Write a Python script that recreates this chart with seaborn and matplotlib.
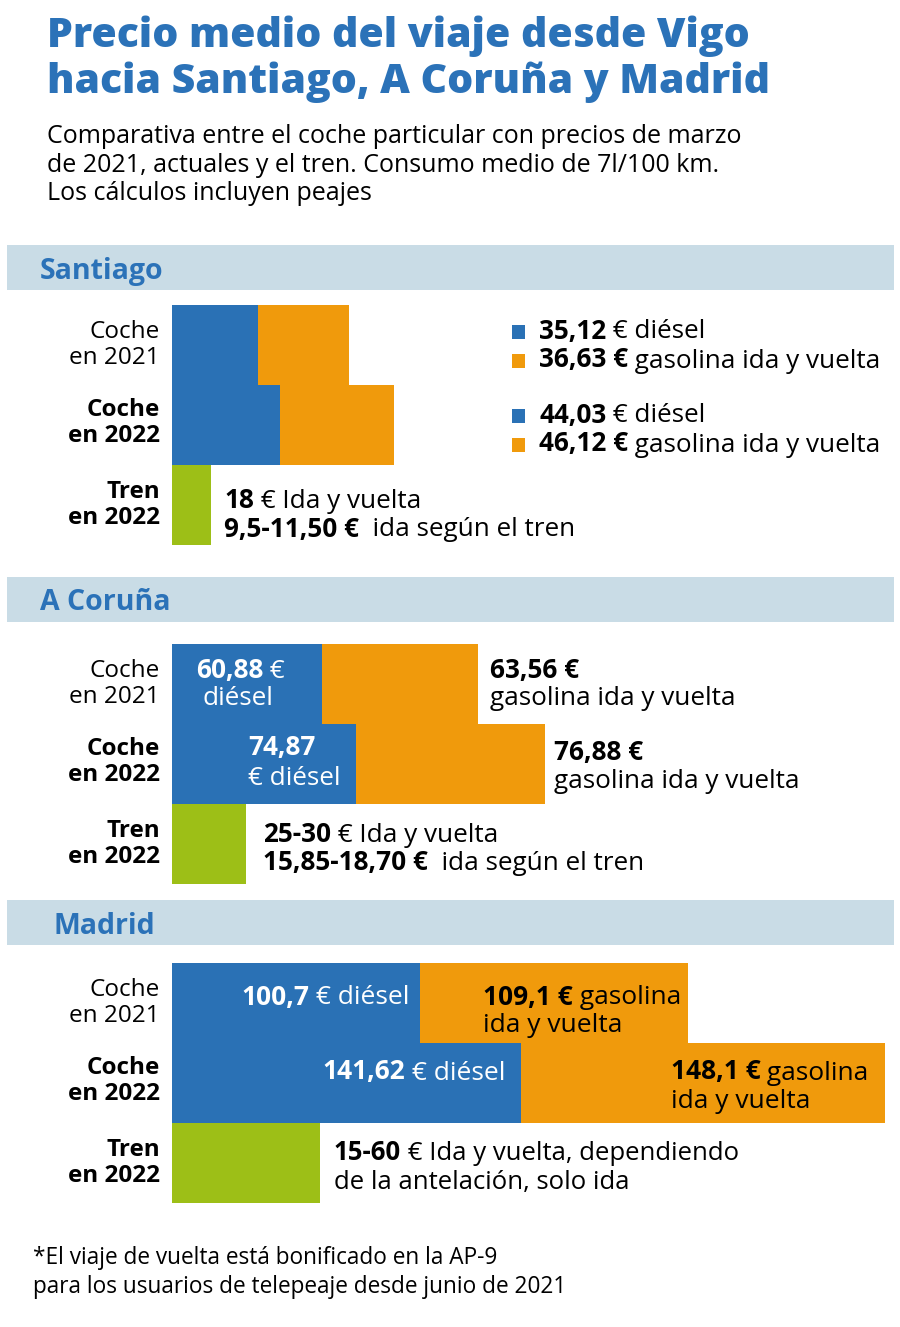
import numpy as np
import pandas as pd
import matplotlib
matplotlib.use("Agg")
import matplotlib.pyplot as plt
from matplotlib.patches import Rectangle
from matplotlib.offsetbox import TextArea, HPacker, AnnotationBbox, DrawingArea
import seaborn as sns

# datos
ciudades = ["Santiago", "A Coruña", "Madrid"]
filas = ["Coche\nen 2021", "Coche\nen 2022", "Tren\nen 2022"]
diesel_2021 = [35.12, 60.88, 100.7]
gasolina_2021 = [36.63, 63.56, 109.1]
diesel_2022 = [44.03, 74.87, 141.62]
gasolina_2022 = [46.12, 76.88, 148.1]
tren = [16, 30, 60]  # largo de la barra verde

AZUL = "#2a71b5"
NARANJA = "#f09a0c"
VERDE = "#9dbf17"
BANDA = "#c9dce6"
TITULO = "#2b72b8"

sns.set_theme(style="white")
FONT = "Open Sans"
plt.rcParams["font.family"] = [FONT, "DejaVu Sans"]
plt.rcParams["text.color"] = "black"

W, H = 900, 1327
fig = plt.figure(figsize=(9, 13.27), dpi=100)
BODY = 17.5   # etiquetas de fila
ANOT = 18.8   # textos de valores


def fx(px):
    return px / W


def fy(py):
    return 1 - py / H


def rich(ax, parts, xy, off, color="black", size=ANOT, align=0, square=None):
    kids = [TextArea(t, textprops=dict(color=color, fontsize=size, fontweight=w, family=FONT))
            for t, w in parts]
    box = HPacker(children=kids, sep=0, pad=0, align="baseline")
    if square is not None:
        da = DrawingArea(9.5, 9.5, 0, 0)
        da.add_artist(Rectangle((0, 0), 9.5, 9.5, color=square, lw=0))
        box = HPacker(children=[da, box], sep=10, pad=0, align="baseline")
    ab = AnnotationBbox(box, xy, xycoords="data", xybox=off, boxcoords="offset pixels",
                        box_alignment=(align, 0.5), frameon=False, pad=0, annotation_clip=False)
    ax.add_artist(ab)


# titulo y subtitulo
fig.text(fx(47), fy(47), "Precio medio del viaje desde Vigo", fontsize=29.5, fontweight="heavy",
         color=TITULO, va="baseline")
fig.text(fx(47), fy(93), "hacia Santiago, A Coruña y Madrid", fontsize=29.5, fontweight="heavy",
         color=TITULO, va="baseline")
sub = ["Comparativa entre el coche particular con precios de marzo",
       "de 2021, actuales y el tren. Consumo medio de 7l/100 km.",
       "Los cálculos incluyen peajes"]
for k, linea in enumerate(sub):
    fig.text(fx(47), fy(143 + 28.5 * k), linea, fontsize=18, va="baseline")

# bandas y ejes por ciudad
bandas = [245, 577, 900]
tops = [305, 644, 963]
xhead = [40, 40, 53]
XMAX = 728 / 2.461

axes = []
for i, ciudad in enumerate(ciudades):
    fig.add_artist(Rectangle((fx(7), fy(bandas[i] + 45)), fx(887), 45 / H,
                             transform=fig.transFigure, color=BANDA, lw=0, zorder=0))
    fig.text(fx(xhead[i]), fy(bandas[i] + 26), ciudad, fontsize=20.5, fontweight="bold",
             color=TITULO, va="center")

    ax = fig.add_axes([fx(172), fy(tops[i] + 240), fx(728), 240 / H])
    total = pd.DataFrame({
        "fila": filas,
        "valor": [diesel_2021[i] + gasolina_2021[i], diesel_2022[i] + gasolina_2022[i], tren[i]],
    })
    diesel = pd.DataFrame({"fila": filas[:2], "valor": [diesel_2021[i], diesel_2022[i]]})
    sns.barplot(data=total, x="valor", y="fila", hue="fila", order=filas,
                palette=[NARANJA, NARANJA, VERDE], orient="h", width=1, linewidth=0,
                saturation=1, errorbar=None, legend=False, ax=ax)
    sns.barplot(data=diesel, x="valor", y="fila", order=filas, color=AZUL, orient="h",
                width=1, linewidth=0, saturation=1, errorbar=None, ax=ax)
    ax.set_xlim(0, XMAX)
    ax.set_ylim(2.5, -0.5)
    ax.axis("off")
    for j, f in enumerate(filas):
        ax.annotate(f, xy=(0, j), xytext=(-12, 2 if j == 1 else 0), textcoords="offset pixels",
                    ha="right", va="center", fontsize=BODY,
                    fontweight="normal" if j == 0 else "bold",
                    color="black", linespacing=1.1, annotation_clip=False)
    axes.append(ax)

# Santiago
ax = axes[0]
rich(ax, [("35,12", "bold"), (" € diésel", "normal")], (0, 0), (340, 14), square=AZUL)
rich(ax, [("36,63 €", "bold"), (" gasolina ida y vuelta", "normal")], (0, 0), (340, -15), square=NARANJA)
rich(ax, [("44,03", "bold"), (" € diésel", "normal")], (0, 1), (340, 10), square=AZUL)
rich(ax, [("46,12 €", "bold"), (" gasolina ida y vuelta", "normal")], (0, 1), (340, -19), square=NARANJA)
rich(ax, [("18", "bold"), (" € Ida y vuelta", "normal")], (tren[0], 2), (13, 5))
rich(ax, [("9,5-11,50 €", "bold"), ("  ida según el tren", "normal")], (tren[0], 2), (13, -24))

# A Coruña
ax = axes[1]
t21 = diesel_2021[1] + gasolina_2021[1]
t22 = diesel_2022[1] + gasolina_2022[1]
rich(ax, [("60,88", "bold"), (" €", "normal")], (0, 0), (24, 13), color="white")
rich(ax, [("diésel", "normal")], (0, 0), (30, -15), color="white")
rich(ax, [("63,56 €", "bold")], (t21, 0), (12, 13))
rich(ax, [("gasolina ida y vuelta", "normal")], (t21, 0), (12, -15))
rich(ax, [("74,87", "bold")], (0, 1), (76, 16), color="white")
rich(ax, [("€ diésel", "normal")], (0, 1), (76, -15), color="white")
rich(ax, [("76,88 €", "bold")], (t22, 1), (9, 11))
rich(ax, [("gasolina ida y vuelta", "normal")], (t22, 1), (9, -18))
rich(ax, [("25-30", "bold"), (" € Ida y vuelta", "normal")], (tren[1], 2), (17, 9))
rich(ax, [("15,85-18,70 €", "bold"), ("  ida según el tren", "normal")], (tren[1], 2), (17, -19))

# Madrid
ax = axes[2]
MS = 19
rich(ax, [("100,7", "bold"), (" € diésel", "normal")], (diesel_2021[2], 0), (-10, 6),
     color="white", size=MS, align=1)
rich(ax, [("109,1 €", "bold"), (" gasolina", "normal")], (diesel_2021[2], 0), (63, 6), size=MS)
rich(ax, [("ida y vuelta", "normal")], (diesel_2021[2], 0), (63, -22), size=MS)
rich(ax, [("141,62", "bold"), (" € diésel", "normal")], (diesel_2022[2], 1), (-15, 11),
     color="white", size=MS, align=1)
rich(ax, [("148,1 €", "bold"), (" gasolina", "normal")], (diesel_2022[2], 1), (150, 11), size=MS)
rich(ax, [("ida y vuelta", "normal")], (diesel_2022[2], 1), (150, -18), size=MS)
rich(ax, [("15-60", "bold"), (" € Ida y vuelta, dependiendo", "normal")], (tren[2], 2), (14, 11),
     size=18.5)
rich(ax, [("de la antelación, solo ida", "normal")], (tren[2], 2), (14, -19), size=18.5)

# nota
fig.text(fx(33), fy(1264), "*El viaje de vuelta está bonificado en la AP-9", fontsize=16.3,
         va="baseline")
fig.text(fx(33), fy(1293), "para los usuarios de telepeaje desde junio de 2021", fontsize=16.3,
         va="baseline")

fig.savefig("out.png", dpi=100, facecolor="white")
